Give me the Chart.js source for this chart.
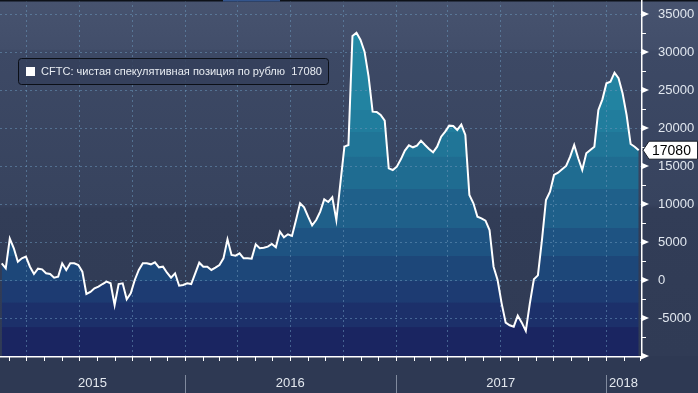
<!DOCTYPE html>
<html>
<head>
<meta charset="utf-8">
<script src="https://cdn.jsdelivr.net/npm/chart.js@4.4.1/dist/chart.umd.min.js"></script>
<style>
  html, body { margin: 0; padding: 0; background: #2e3953; }
  #wrap { width: 698px; height: 393px; position: relative; }
</style>
</head>
<body>
<div id="wrap"><canvas id="c" width="698" height="393"></canvas></div>
<script>
// ---- data (weekly CFTC net speculative position in RUB futures) ----
const firstWeek = '2015-02-17';
const values = [
  2190, 1540, 5440, 4170, 2410, 2850, 3070, 1750, 790, 1490,
  1400, 880, 790, 310, 440, 2190, 1320, 2190, 2190, 1970,
  1100, -1840, -1580, -1100, -880, -530, -220, -440, -3290, -530,
  -440, -2540, -1750, 0, 1320, 2190, 2190, 2060, 2320, 1670,
  1750, 960, 310, 880, -750, -660, -440, -530, 880, 2280,
  1750, 1750, 1320, 1620, 1970, 2850, 5350, 3290, 3200, 3510,
  2850, 2850, 2810, 4690, 4170, 4250, 4390, 4740, 4300, 6360,
  5610, 6010, 5790, 7890, 10090, 9560, 8330, 7190, 7890, 8990,
  10610, 10260, 10880, 7890, 12720, 17540, 17760, 32100, 32540, 31580,
  30040, 26750, 22150, 22110, 21710, 20970, 14690, 14470, 14910, 15880,
  17020, 17720, 17460, 17680, 18330, 17760, 17240, 16800, 17540, 18860,
  19520, 20310, 20260, 19740, 20440, 19080, 11180, 10090, 8330, 8110,
  7810, 6580, 1750, 0, -3070, -5610, -5960, -6140, -4690, -5610,
  -6710, -3070, 90, 610, 5260, 10530, 11620, 13820, 14120, 14560,
  15000, 16230, 17760, 16010, 14470, 16670, 17110, 17540, 22370, 23770,
  25880, 26100, 27280, 26540, 24560, 21710, 17890, 17540, 17080
];
const seriesName = 'CFTC: чистая спекулятивная позиция по рублю';
const yTicks = [-10000, -5000, 0, 5000, 10000, 15000, 20000, 25000, 30000, 35000];
const yMinorTicks = [-7500, -2500, 2500, 7500, 12500, 17500, 22500, 27500, 32500];
const yearLabels = ['2015', '2016', '2017', '2018'];
const axisStart = '2015-02-14';
const axisEnd = '2018-03-03';

// ---- helpers ----
const DAY = 86400000;
const dayOf = s => Date.parse(s + 'T00:00:00Z') / DAY;
const startDay = dayOf(firstWeek);
const weekDays = values.map((_, i) => startDay + 7 * i);
const points = values.map((v, i) => ({ x: weekDays[i], y: v }));
const lastValue = values[values.length - 1];

const FONT = "'Liberation Sans', Arial, sans-serif";

function monthStarts() {
  const out = [];
  for (let y = 2015; y <= 2018; y++) for (let m = 0; m < 12; m++) out.push({ y, m, d: Date.UTC(y, m, 1) / DAY });
  return out;
}

// stepped colour bands of the area fill (fractions of plot height)
const bandEdges = [0, 0.14, 0.225, 0.31, 0.37, 0.44, 0.53, 0.64, 0.72, 0.79, 0.85, 0.92, 1];
const bandColors = ['#2489a5', '#2387a3', '#2283a1', '#217d9d', '#207597', '#1f6c91',
                    '#1f608a', '#1e5382', '#1d4779', '#1d3b72', '#1c306a', '#1a2561'];

function fillGradient(context) {
  const chart = context.chart;
  const ca = chart.chartArea;
  if (!ca) return '#1e5c85';
  const g = chart.ctx.createLinearGradient(0, ca.top, 0, ca.bottom);
  bandColors.forEach((c, i) => {
    g.addColorStop(bandEdges[i], c);
    g.addColorStop(Math.max(bandEdges[i], bandEdges[i + 1] - 0.0005), c);
  });
  return g;
}

const decor = {
  id: 'decor',
  beforeDraw(chart) {
    const { ctx, width, height, chartArea: ca } = chart;
    ctx.save();
    const g = ctx.createLinearGradient(0, 0, 0, height);
    g.addColorStop(0.0, '#47536f');
    g.addColorStop(0.125, '#424e6a');
    g.addColorStop(0.13, '#3d4965');
    g.addColorStop(0.52, '#37435e');
    g.addColorStop(0.53, '#323d57');
    g.addColorStop(0.9, '#303b55');
    g.addColorStop(1.0, '#2e3953');
    ctx.fillStyle = g;
    ctx.fillRect(0, 0, width, height);
    ctx.fillStyle = '#2e3953';
    ctx.fillRect(0, ca.bottom, width, height - ca.bottom);
    ctx.restore();
  },
  afterDatasetDraw(chart, args) {
    if (args.index !== 1) return; // after the filled area, before the line
    const { ctx, chartArea: ca, scales } = chart;
    const ys = scales.y, xs = scales.x;
    ctx.save();
    ctx.setLineDash([2, 3]);
    ctx.lineWidth = 1;
    ctx.strokeStyle = 'rgba(105,150,185,0.55)';
    yTicks.forEach(v => {
      if (v <= ys.min) return;
      const y = Math.round(ys.getPixelForValue(v)) + 0.5;
      ctx.beginPath(); ctx.moveTo(ca.left, y); ctx.lineTo(ca.right, y); ctx.stroke();
    });
    monthStarts().forEach(ms => {
      if (ms.m % 3 !== 0) return;
      if (ms.d <= xs.min || ms.d >= xs.max) return;
      const x = Math.round(xs.getPixelForValue(ms.d)) + 0.5;
      ctx.beginPath(); ctx.moveTo(x, ca.top); ctx.lineTo(x, ca.bottom); ctx.stroke();
    });
    ctx.restore();
  },
  afterDraw(chart) {
    const { ctx, width, height, chartArea: ca, scales } = chart;
    const ys = scales.y, xs = scales.x;
    ctx.save();
    // top strip
    ctx.fillStyle = '#0d1118';
    ctx.fillRect(0, 0, width, 1.5);
    ctx.fillStyle = '#34558c';
    ctx.fillRect(223, 0, 57, 1.5);

    // y axis line
    ctx.strokeStyle = '#ffffff';
    ctx.lineWidth = 1.5;
    ctx.beginPath(); ctx.moveTo(ca.right + 0.75, ca.top); ctx.lineTo(ca.right + 0.75, ca.bottom + 1); ctx.stroke();
    // major tick triangles
    ctx.fillStyle = '#ffffff';
    yTicks.forEach(v => {
      const y = ys.getPixelForValue(v);
      ctx.beginPath();
      ctx.moveTo(ca.right, y - 3.5);
      ctx.lineTo(ca.right + 8, y);
      ctx.lineTo(ca.right, y + 3.5);
      ctx.closePath(); ctx.fill();
    });
    // minor ticks
    ctx.lineWidth = 1;
    yMinorTicks.forEach(v => {
      const y = Math.round(ys.getPixelForValue(v)) + 0.5;
      ctx.beginPath(); ctx.moveTo(ca.right, y); ctx.lineTo(ca.right + 5, y); ctx.stroke();
    });

    // x axis line
    ctx.lineWidth = 1.5;
    ctx.beginPath(); ctx.moveTo(ca.left, ca.bottom + 0.75); ctx.lineTo(ca.right + 1, ca.bottom + 0.75); ctx.stroke();
    ctx.lineWidth = 1;
    monthStarts().forEach(ms => {
      if (ms.d <= xs.min || ms.d >= xs.max) return;
      const x = Math.round(xs.getPixelForValue(ms.d)) + 0.5;
      ctx.beginPath(); ctx.moveTo(x, ca.bottom); ctx.lineTo(x, ca.bottom + 5); ctx.stroke();
    });

    // year separators and labels
    const bounds = [ca.left];
    yearLabels.slice(1).forEach(yl => bounds.push(xs.getPixelForValue(Date.UTC(+yl, 0, 1) / DAY)));
    bounds.push(ca.right);
    ctx.strokeStyle = '#808a9e';
    bounds.slice(1, -1).forEach(b => {
      const x = Math.round(b) + 0.5;
      ctx.beginPath(); ctx.moveTo(x, ca.bottom + 19); ctx.lineTo(x, height); ctx.stroke();
    });
    ctx.fillStyle = '#e3e8ef';
    ctx.font = '13px ' + FONT;
    ctx.textAlign = 'center';
    ctx.textBaseline = 'middle';
    yearLabels.forEach((yl, i) => {
      ctx.fillText(yl, (bounds[i] + bounds[i + 1]) / 2, ca.bottom + 27);
    });

    // legend box
    const lx = 18.5, ly = 58.5, lw = 310, lh = 26;
    ctx.beginPath();
    ctx.roundRect(lx, ly, lw, lh, 3);
    ctx.fillStyle = 'rgba(52,63,90,0.85)';
    ctx.fill();
    ctx.strokeStyle = '#0b0f17';
    ctx.lineWidth = 1;
    ctx.stroke();
    ctx.fillStyle = '#ffffff';
    ctx.fillRect(26, 67, 9, 9);
    const ltext = seriesName + '  ' + lastValue;
    ctx.font = '12px ' + FONT;
    const w = ctx.measureText(ltext).width;
    const fs = Math.min(13, 12 * 281 / w);
    ctx.font = fs.toFixed(2) + 'px ' + FONT;
    ctx.textAlign = 'left';
    ctx.fillStyle = '#e8ecf2';
    ctx.fillText(ltext, 41, 72);

    // last value tag
    const vy = ys.getPixelForValue(lastValue);
    const tx = ca.right + 2, th = 18;
    ctx.beginPath();
    ctx.moveTo(tx, vy);
    ctx.lineTo(tx + 6, vy - th / 2);
    ctx.lineTo(width - 0.5, vy - th / 2);
    ctx.lineTo(width - 0.5, vy + th / 2);
    ctx.lineTo(tx + 6, vy + th / 2);
    ctx.closePath();
    ctx.fillStyle = '#ffffff';
    ctx.fill();
    ctx.strokeStyle = '#1a1f2a';
    ctx.stroke();
    ctx.fillStyle = '#000000';
    ctx.font = '14px ' + FONT;
    ctx.textAlign = 'left';
    ctx.fillText(String(lastValue), tx + 9, vy + 1);
    ctx.restore();
  }
};

new Chart(document.getElementById('c'), {
  type: 'line',
  data: {
    datasets: [
      {
        label: seriesName,
        data: points,
        borderColor: '#ffffff',
        borderWidth: 2,
        pointRadius: 0,
        tension: 0,
        fill: false,
        order: 0
      },
      {
        label: 'area',
        data: points,
        borderWidth: 0,
        borderColor: 'rgba(0,0,0,0)',
        pointRadius: 0,
        tension: 0,
        fill: 'start',
        backgroundColor: fillGradient,
        order: 1
      }
    ]
  },
  options: {
    responsive: false,
    animation: false,
    events: [],
    layout: { padding: { top: 0, left: 0, right: 0, bottom: 0 } },
    plugins: { legend: { display: false }, tooltip: { enabled: false } },
    scales: {
      x: {
        type: 'linear',
        min: dayOf(axisStart),
        max: dayOf(axisEnd),
        grid: { display: false },
        border: { display: false },
        ticks: { display: false },
        afterFit(scale) { scale.height = 37; scale.paddingLeft = 0; scale.paddingRight = 0; }
      },
      y: {
        position: 'right',
        min: -10000,
        max: 36840,
        grid: { display: false },
        border: { display: false },
        afterBuildTicks(scale) { scale.ticks = yTicks.map(v => ({ value: v })); },
        ticks: {
          color: '#e1e7ef',
          font: { family: FONT, size: 13 },
          padding: 9,
          callback: v => (v === -10000 ? '' : String(v))
        },
        afterFit(scale) { scale.width = 57; scale.paddingTop = 0; scale.paddingBottom = 0; }
      }
    }
  },
  plugins: [decor]
});
</script>
</body>
</html>
